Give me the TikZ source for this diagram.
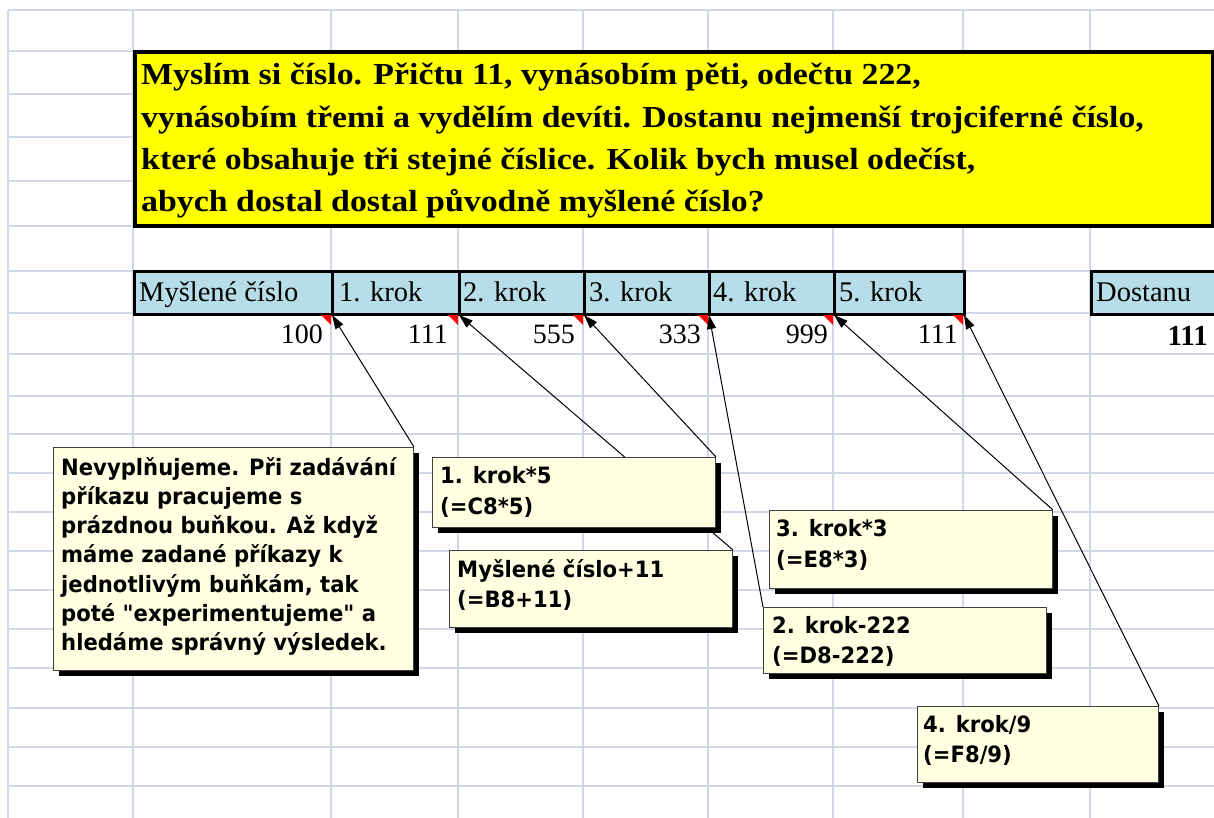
\documentclass[tikz,border=0pt]{standalone}
\usepackage{fontspec}
\setmainfont{Liberation Serif}
\newfontfamily\tah[FakeStretch=0.94]{DejaVu Sans}
\newfontfamily\ybf[FakeStretch=1.11]{Liberation Serif}
\usetikzlibrary{arrows.meta,shadows}
\definecolor{gridc}{HTML}{D0D7E5}
\definecolor{hdr}{HTML}{B7DEE8}
\definecolor{notec}{HTML}{FFFFE1}
\definecolor{ylw}{HTML}{FFFF00}
\pgfdeclarelayer{sheet}
\pgfdeclarelayer{leaders}
\pgfsetlayers{sheet,leaders,main}
\newcommand\mystack[2]{\vtop{\baselineskip=#1\relax #2}}
\tikzset{
  gridline/.style={draw=gridc, line width=2.2pt},
  qbox/.style={draw=black, line width=4pt, fill=ylw, inner sep=0pt},
  hcell/.style={draw=black, line width=3pt, fill=hdr, inner sep=0pt, anchor=north west, minimum height=43pt},
  htext/.style={anchor=base west, inner sep=0pt, font=\fontsize{28.5}{30}\selectfont},
  numtext/.style={anchor=base east, inner sep=0pt, font=\fontsize{28}{30}\selectfont},
  notebox/.style={draw=black!75, line width=1pt, fill=notec, inner sep=0pt, anchor=north west,
    drop shadow={shadow xshift=5pt, shadow yshift=-5pt, fill=black, opacity=1}},
  notetext/.style={anchor=base west, inner sep=0pt, font=\tah\bfseries\fontsize{22.5}{29}\selectfont},
  conn/.style={draw=black, line width=1pt, -{Triangle[length=14pt,width=9pt]}},
  redmark/.style={fill=red}
}
\begin{document}
\begin{tikzpicture}[x=1pt,y=-1pt]
\useasboundingbox (0,0) rectangle (1214,818);
\clip (0,0) rectangle (1214,818);
\begin{pgfonlayer}{sheet}
\fill[white] (0,0) rectangle (1214,818);
% grid
\foreach \x in {8,133,331,458,583,708,833,963,1090} \draw[gridline] (\x,10) -- (\x,818);
\foreach \y in {10,51,94,137,181,226,271,313,354,396,434,473,512,551,590,629,668,708,747,786} \draw[gridline] (8,\y) -- (1214,\y);

% question box
\node[qbox, anchor=north west, minimum width=1078pt, minimum height=173.5pt] (q) at (133,50.5) {};
\node[anchor=base west, inner sep=0pt, font=\ybf\bfseries\fontsize{30.5}{42}\selectfont] (qt) at (141,85)
  {\mystack{42.3pt}{\hbox{Myslím si číslo. Přičtu 11, vynásobím pěti, odečtu 222,}\hbox{vynásobím třemi a vydělím devíti. Dostanu nejmenší trojciferné číslo,}\hbox{které obsahuje tři stejné číslice. Kolik bych musel odečíst,}\hbox{abych dostal dostal původně myšlené číslo?}}};

% header cells
\node[hcell, minimum width=198pt] (hB) at (133,270) {};
\node[hcell, minimum width=127pt] (hC) at (331,270) {};
\node[hcell, minimum width=125pt] (hD) at (458,270) {};
\node[hcell, minimum width=125pt] (hE) at (583,270) {};
\node[hcell, minimum width=125pt] (hF) at (708,270) {};
\node[hcell, minimum width=130pt] (hG) at (833,270) {};
\node[hcell, minimum width=140pt] (hI) at (1090,270) {};
\node[htext] (tB) at (139,301) {Myšlené číslo};
\node[htext] (tC) at (339,301) {1. krok};
\node[htext] (tD) at (463,301) {2. krok};
\node[htext] (tE) at (589,301) {3. krok};
\node[htext] (tF) at (713,301) {4. krok};
\node[htext] (tG) at (839,301) {5. krok};
\node[htext] (tI) at (1096,301) {Dostanu};

% values
\node[numtext] (vB) at (323,343) {100};
\node[numtext] (vC) at (448,343) {111};
\node[numtext] (vD) at (575,343) {555};
\node[numtext] (vE) at (701,343) {333};
\node[numtext] (vF) at (828,343) {999};
\node[numtext] (vG) at (958,343) {111};
\node[anchor=base east, inner sep=0pt, font=\bfseries\fontsize{29}{30}\selectfont] (vI) at (1208,345) {111};

% comment markers
\foreach \x in {331,458,583,708,833,963} \fill[redmark] (\x-10,315) -- (\x,315) -- (\x,325) -- cycle;
\end{pgfonlayer}

% cell corners
\coordinate (cB) at (332,315);
\coordinate (cC) at (459,315);
\coordinate (cD) at (584,315);
\coordinate (cE) at (709,315);
\coordinate (cF) at (834,315);
\coordinate (cG) at (964,315);

% note boxes
\node[notebox, minimum width=360pt, minimum height=223pt] (nA) at (53,447) {};
\node[notebox, minimum width=283pt, minimum height=70pt] (nB) at (432,457) {};
\node[notebox, minimum width=283pt, minimum height=77pt] (nC) at (449,550) {};
\node[notebox, minimum width=283pt, minimum height=78pt] (nD) at (769,510) {};
\node[notebox, minimum width=283pt, minimum height=66pt] (nE) at (763,607) {};
\node[notebox, minimum width=241pt, minimum height=76pt] (nF) at (917,706) {};

% connectors (behind the notes)
\begin{pgfonlayer}{leaders}
\draw[conn] (nA.north east) -- (cB);
\draw[conn] (nC.north east) -- (cC);
\draw[conn] (nB.north east) -- (cD);
\draw[conn] (nE.north west) -- (cE);
\draw[conn] (nD.north east) -- (cF);
\draw[conn] (nF.north east) -- (cG);
\end{pgfonlayer}

% note texts
\node[notetext] (nAt) at (61,475) {\mystack{29.3pt}{\hbox{Nevyplňujeme. Při zadávání}\hbox{příkazu pracujeme s}\hbox{prázdnou buňkou. Až když}\hbox{máme zadané příkazy k}\hbox{jednotlivým buňkám, tak}\hbox{poté "experimentujeme" a}\hbox{hledáme správný výsledek.}}};
\node[notetext] (nBt) at (440,483) {\mystack{31pt}{\hbox{1. krok*5}\hbox{(=C8*5)}}};
\node[notetext] (nCt) at (457,577) {\mystack{30pt}{\hbox{Myšlené číslo+11}\hbox{(=B8+11)}}};
\node[notetext] (nDt) at (776,536) {\mystack{31pt}{\hbox{3. krok*3}\hbox{(=E8*3)}}};
\node[notetext] (nEt) at (772,633) {\mystack{30pt}{\hbox{2. krok-222}\hbox{(=D8-222)}}};
\node[notetext] (nFt) at (923,732) {\mystack{30pt}{\hbox{4. krok/9}\hbox{(=F8/9)}}};
\end{tikzpicture}
\end{document}
